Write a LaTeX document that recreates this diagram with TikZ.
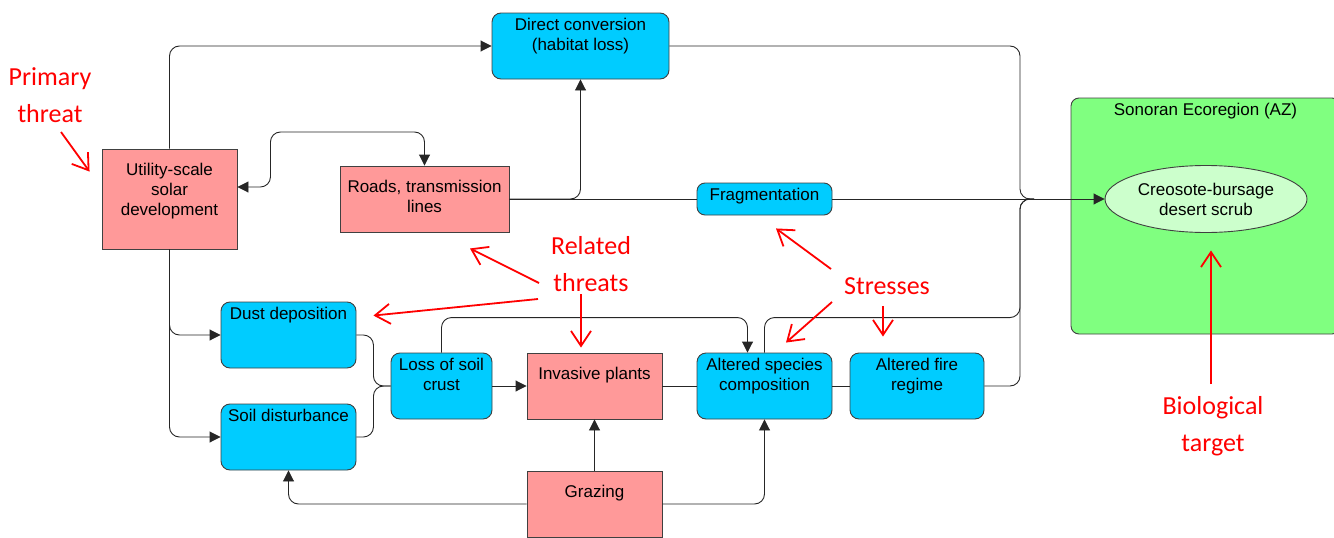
\documentclass[tikz,border=0pt]{standalone}
\usepackage{fontspec}
\setmainfont{Liberation Sans}
\newfontfamily\notefont{Carlito}
\usetikzlibrary{arrows.meta,shapes.geometric}

\definecolor{threatpink}{HTML}{FF9999}
\definecolor{stressblue}{HTML}{00CCFF}
\definecolor{regiongreen}{HTML}{80FF80}
\definecolor{targetgreen}{HTML}{CCFFCC}
\definecolor{edgegray}{HTML}{404040}

\tikzset{
  boxtext/.style={anchor=north, inner sep=0pt, minimum width=0pt, minimum height=0pt, align=center,
                  font=\fontsize{17}{20}\selectfont},
  box/.style={draw=edgegray, line width=0.9pt, inner sep=0pt, label distance=0pt},
  threat/.style={box, fill=threatpink, label={[boxtext, yshift=-14pt]north:{#1}}},
  stress/.style={box, fill=stressblue, rounded corners=9pt, label={[boxtext, yshift=-5pt]north:{#1}}},
  link/.style={draw=black!85, line width=0.9pt, rounded corners=10pt},
  arr/.style={link, -{Triangle[length=11pt,width=11pt]}},
  note/.style={text=red, align=center, inner sep=0pt, font=\notefont\fontsize{26}{37}\selectfont},
  notearrow/.style={draw=red, line width=1.8pt, -{Straight Barb[length=15pt,width=20pt]}}
}

\begin{document}
\begin{tikzpicture}[x=1pt, y=-1pt]
  \useasboundingbox (0,0) rectangle (1334,538);

  \node[box, fill=regiongreen, rounded corners=8pt, minimum width=269pt, minimum height=236pt,
        label={[boxtext, yshift=-5pt]north:Sonoran Ecoregion (AZ)}] (region) at (1205.5,216) {};
  \node[ellipse, draw=edgegray, line width=0.9pt, fill=targetgreen, minimum width=202pt, minimum height=67pt,
        inner sep=0pt, align=center, font=\fontsize{17}{20}\selectfont] (scrub) at (1206,199) {Creosote-bursage\\desert scrub};

  \begin{scope}[every node/.append style={minimum width=135pt, minimum height=66pt}]
    \node[threat={Utility-scale\\solar\\development}, minimum height=100pt] (solar) at (169.5,199) {};
    \node[threat={Roads, transmission\\lines}, minimum width=169pt] (roads) at (424.5,199) {};
    \node[threat={Invasive plants}] (invasive) at (594.5,386) {};
    \node[threat={Grazing}] (grazing) at (594.5,504) {};
    \node[stress={Direct conversion\\(habitat loss)}, minimum width=177pt] (direct) at (580.5,46) {};
    \node[stress={Fragmentation}, minimum height=32pt, rounded corners=8pt] (frag) at (764.5,199) {};
    \node[stress={Dust deposition}] (dust) at (288.5,335) {};
    \node[stress={Soil disturbance}] (soil) at (288.5,437) {};
    \node[stress={Loss of soil\\crust}, minimum width=101pt] (loss) at (441.5,386) {};
    \node[stress={Altered species\\composition}] (species) at (764.5,386) {};
    \node[stress={Altered fire\\regime}, minimum width=134pt] (fire) at (917,386) {};
  \end{scope}

  \coordinate (bus) at (1020,199);
  \coordinate (merge) at (1034,199);

  \draw[arr] (solar.north) |- (direct.west);
  \draw[link, {Triangle[length=11pt,width=11pt]}-{Triangle[length=11pt,width=11pt]}]
    ([yshift=12pt]solar.east) -- ++(33,0) -- ++(0,-55) -| (roads.north);
  \draw[link] (roads) -- (frag);
  \draw[arr] (roads.east) -| (direct.south);
  \draw[arr] (frag) -- (scrub);
  \draw[link] (direct.east) -| (bus) -- (merge);
  \draw[link] (species.north) -- ++(0,-35) -| (bus) -- (merge);
  \draw[link] (fire.east) -| (bus) -- (merge);
  \draw[arr] (loss.north) -- ++(0,-35) -| ([xshift=-17pt]species.north);
  \draw[arr] (solar.south) |- (dust.west);
  \draw[arr] (solar.south) |- (soil.west);
  \draw[link] (dust.east) -- ++(17,0) |- (loss.west);
  \draw[link] (soil.east) -- ++(17,0) |- (loss.west);
  \draw[arr] (loss) -- (invasive);
  \draw[link] (invasive) -- (species);
  \draw[link] (species) -- (fire);
  \draw[arr] (grazing) -- (invasive);
  \draw[arr] (grazing.west) -| (soil.south);
  \draw[arr] (grazing.east) -| (species.south);

  \node[note] (primary) at (50,95) {Primary\\threat};
  \node[note] (related) at (591,264) {Related\\threats};
  \node[note] (stresses) at (887,286) {Stresses};
  \node[note] (biological) at (1213,426) {Biological\\target};

  \draw[notearrow] ([shift={(11,37)}]primary.center) -- ([shift={(-12,23)}]solar.north west);
  \draw[notearrow] ([shift={(-52,19)}]related.center) -- ([shift={(45.5,16)}]roads.south);
  \draw[notearrow] ([shift={(-53,35)}]related.center) -- ([shift={(17,14)}]dust.north east);
  \draw[notearrow] ([shift={(-10,30)}]related.center) -- ([shift={(-13.5,-5)}]invasive.north);
  \draw[notearrow] ([shift={(-56,-17)}]stresses.center) -- ([shift={(11.5,13)}]frag.south);
  \draw[notearrow] ([shift={(-55,16)}]stresses.center) -- ([shift={(21.5,-10)}]species.north);
  \draw[notearrow] ([shift={(-4,20)}]stresses.center) -- ([shift={(-34,-16)}]fire.north);
  \draw[notearrow] ([shift={(-2,-42)}]biological.center) -- ([shift={(5,17.5)}]scrub.south);
\end{tikzpicture}
\end{document}
